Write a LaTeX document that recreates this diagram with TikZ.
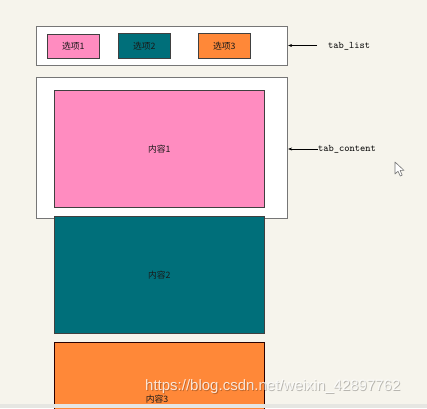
\documentclass[tikz,border=0pt]{standalone}
\usepackage{fontspec}
\newfontfamily\cjk{Noto Sans CJK SC}
\newfontfamily\wmfont{Liberation Sans}
\usetikzlibrary{arrows.meta}
\definecolor{bgc}{HTML}{F6F4EC}
\definecolor{pinkc}{HTML}{FF8CC0}
\definecolor{tealc}{HTML}{006F7A}
\definecolor{orangec}{HTML}{FF8838}
\definecolor{outerc}{HTML}{767676}
\definecolor{stripc}{HTML}{E6E6E2}
\tikzset{
  outerbox/.style={draw=outerc,line width=1.1pt,fill=white,inner sep=0pt,anchor=north west},
  tabbox/.style={draw=black!75,line width=0.6pt,inner sep=0pt,anchor=north west,
     font=\cjk\fontsize{8.8}{10}\selectfont,text=black!90},
  contentbox/.style={draw=black!75,line width=0.7pt,inner sep=0pt,anchor=north west,
     font=\cjk\fontsize{8.8}{10}\selectfont,text=black!90},
  lbl/.style={font=\ttfamily\fontsize{10}{12}\selectfont,inner sep=0pt,anchor=west,text=black},
  pointer/.style={-{Stealth[length=4pt,width=3pt]},line width=0.5pt,black}
}
\begin{document}
\begin{tikzpicture}[x=1pt,y=-1pt]
\useasboundingbox (0,0) rectangle (427,408);
\fill[bgc] (0,0) rectangle (427,408);
\begin{scope}
\clip (0,0) rectangle (427,408);
% tab list
\node[outerbox,minimum width=251pt,minimum height=39pt] (tablist) at (36,26) {};
\node[tabbox,fill=pinkc,minimum width=52pt,minimum height=24pt] (t1) at (47,34) {选项1};
\node[tabbox,fill=tealc,minimum width=52pt,minimum height=25pt] (t2) at (118,33) {选项2};
\node[tabbox,fill=orangec,minimum width=52pt,minimum height=25pt] (t3) at (198,33) {选项3};
% tab content
\node[outerbox,minimum width=251pt,minimum height=141pt] (tabcontent) at (36,77) {};
\node[contentbox,fill=pinkc,minimum width=210pt,minimum height=117pt] (c1) at (54,90) {内容1};
\node[contentbox,fill=tealc,minimum width=210pt,minimum height=117pt] (c2) at (54,216) {内容2};
\node[draw=black!60!red!40!black,line width=0.7pt,fill=orangec,inner sep=0pt,anchor=north west,
      minimum width=210pt,minimum height=70pt] (c3) at (54,342) {};
\node[font=\cjk\fontsize{8.8}{10}\selectfont,text=black!90,inner sep=0pt] (c3t) at (157,399) {内容3};
% labels
\node[lbl] (l1) at (328,46.5) {tab\_list};
\coordinate (a1) at (317,45.5);
\draw[pointer] (a1) -- (tablist.east |- a1);
\node[lbl] (l2) at (318,149) {tab\_content};
\draw[pointer] (l2.west) -- (tabcontent.east |- l2.west);
% watermark
\node[font=\wmfont\fontsize{15}{18}\selectfont,text=black,opacity=0.25,inner sep=0pt,anchor=west] (wms) at (145.8,387.8) {https://blog.csdn.net/weixin\_42897762};
\node[font=\wmfont\fontsize{15}{18}\selectfont,text=white,opacity=0.8,inner sep=0pt,anchor=west] (wm) at (145,387) {https://blog.csdn.net/weixin\_42897762};
% cursor
\draw[fill=white,draw=black!55,line width=0.6pt,line join=round]
  (395,162) -- (395,174) -- (398,171.2) -- (400.2,176) -- (402.2,175.1) -- (400.1,170.4) -- (404,170.4) -- cycle;
% bottom strip
\fill[stripc] (0,404) rectangle (427,408);
\end{scope}
\end{tikzpicture}
\end{document}
